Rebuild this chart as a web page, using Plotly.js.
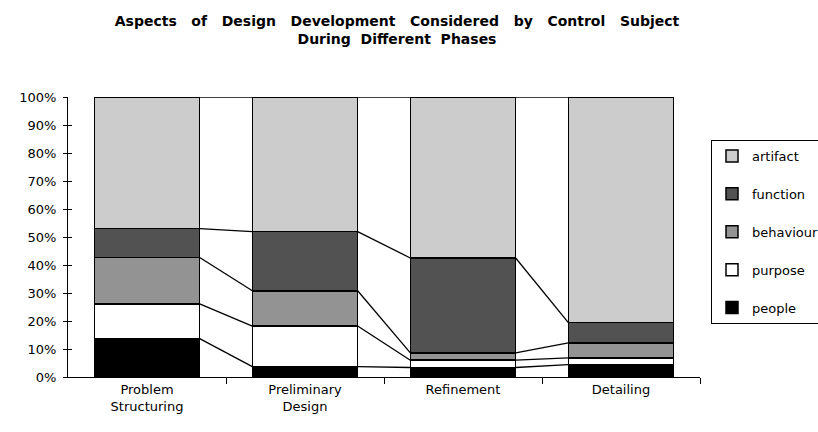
<!DOCTYPE html>
<html>
<head>
<meta charset="utf-8">
<script src="https://cdn.plot.ly/plotly-3.0.1.min.js"></script>
<style>html,body{margin:0;padding:0;background:#fff;}#chart{width:818px;height:432px;}</style>
</head>
<body>
<div id="chart"></div>
<script>
// Data (percent of each phase)
const categories = ["Problem<br>Structuring", "Preliminary<br>Design", "Refinement", "Detailing"];
const people    = [13.7, 3.7, 3.4, 4.4];
const purpose   = [12.4, 14.5, 2.6, 2.4];
const behaviour = [16.6, 12.6, 2.6, 5.4];
const func      = [10.3, 21.1, 33.9, 7.2];
const artifact  = [47.0, 48.1, 57.5, 80.6];
const yTickLabels = ["0%","10%","20%","30%","40%","50%","60%","70%","80%","90%","100%"];

const seriesNames  = ["people", "purpose", "behaviour", "function", "artifact"];
const seriesValues = [people, purpose, behaviour, func, artifact];
const seriesColors = ["#000000", "#ffffff", "#939393", "#525252", "#cccccc"];

const barWidth = 2/3;
const xIdx = categories.map((c, i) => i);

const traces = [];
seriesNames.forEach((name, s) => {
  traces.push({
    type: "bar", name: name, x: xIdx, y: seriesValues[s],
    width: barWidth, legendgroup: name, legendrank: 1000 - s,
    marker: {color: seriesColors[s], line: {color: "#000", width: 1.5}},
    hoverinfo: "skip"
  });
});

// Series lines joining cumulative tops between adjacent bars
const cum = xIdx.map(() => 0);
seriesValues.forEach((vals, s) => {
  vals.forEach((v, i) => { cum[i] += v; });
  const lx = [], ly = [];
  for (let i = 0; i < xIdx.length - 1; i++) {
    lx.push(xIdx[i] + barWidth/2, xIdx[i+1] - barWidth/2, null);
    ly.push(cum[i], cum[i+1], null);
  }
  traces.push({
    type: "scatter", mode: "lines", x: lx, y: ly, showlegend: false,
    line: {color: "#000", width: 1.3}, hoverinfo: "skip", cliponaxis: false
  });
});

const tickFont = {family: "DejaVu Sans, sans-serif", size: 13, color: "#000"};
const yVals = yTickLabels.map((t, i) => i * 10);

const layout = {
  width: 818, height: 432,
  paper_bgcolor: "#fff", plot_bgcolor: "#fff",
  margin: {l: 68, r: 118, t: 97, b: 55},
  barmode: "stack",
  showlegend: true,
  title: {
    text: "<b>Aspects\u00a0\u00a0 of\u00a0\u00a0 Design\u00a0\u00a0 Development\u00a0\u00a0 Considered\u00a0\u00a0 by\u00a0\u00a0 Control\u00a0\u00a0 Subject<br>During\u00a0 Different\u00a0 Phases</b>",
    font: {family: "DejaVu Sans, sans-serif", size: 14, color: "#000"},
    x: 397/818, xref: "container", xanchor: "center",
    y: 1 - 26/432, yref: "container", yanchor: "top"
  },
  xaxis: {
    range: [-0.5, 3.5], tickvals: xIdx, ticktext: categories,
    ticks: "", showline: true, linecolor: "#000", linewidth: 1,
    showgrid: false, zeroline: false, tickfont: tickFont, fixedrange: true
  },
  xaxis2: {
    overlaying: "x", anchor: "y", side: "bottom",
    range: [-0.5, 3.5], tickvals: [0.5, 1.5, 2.5, 3.5],
    ticks: "outside", ticklen: 6, tickcolor: "#000", tickwidth: 1,
    showticklabels: false, showline: false, showgrid: false, zeroline: false
  },
  yaxis: {
    range: [0, 100], tickvals: yVals, ticktext: yTickLabels,
    ticks: "outside", ticklen: 4, tickcolor: "#000", tickwidth: 1,
    showline: true, linecolor: "#000", linewidth: 1,
    showgrid: false, zeroline: false, tickfont: tickFont, ticklabelstandoff: 4
  },
  yaxis2: {
    overlaying: "y", anchor: "x", side: "left",
    range: [0, 100], tickvals: yVals,
    ticks: "inside", ticklen: 4, tickcolor: "#000", tickwidth: 1,
    showticklabels: false, showline: false, showgrid: false, zeroline: false
  },
  legend: {
    xref: "container", yref: "container",
    x: 711/818, y: 1 - 140/432, xanchor: "left", yanchor: "top",
    bordercolor: "#000", borderwidth: 1, bgcolor: "#fff",
    traceorder: "grouped", tracegroupgap: 18,
    font: {family: "DejaVu Sans, sans-serif", size: 13, color: "#000"}
  }
};

// dummy traces to activate the secondary axes
traces.push({type: "scatter", x: [0], y: [0], xaxis: "x2", yaxis: "y2", mode: "markers",
  marker: {opacity: 0}, showlegend: false, hoverinfo: "skip"});

Plotly.newPlot("chart", traces, layout, {displayModeBar: false, staticPlot: true});
</script>
</body>
</html>
